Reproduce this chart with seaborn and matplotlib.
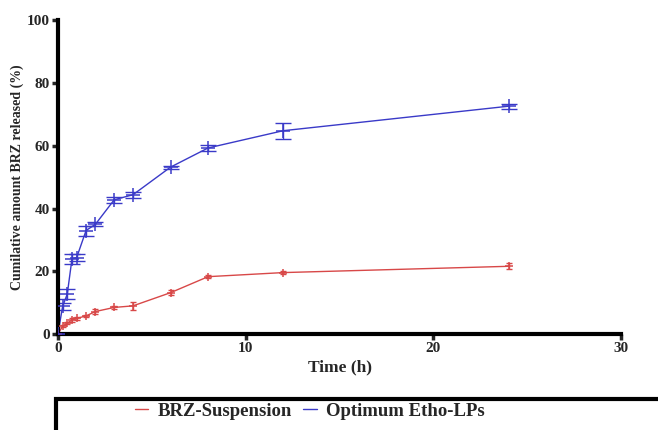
import numpy as np
import pandas as pd
import matplotlib
matplotlib.use("Agg")
import matplotlib.pyplot as plt
import seaborn as sns
from matplotlib.patches import Rectangle
from matplotlib.lines import Line2D

time_h = [0, 0.25, 0.5, 0.75, 1, 1.5, 2, 3, 4, 6, 8, 12, 24]
brz_susp = [0, 2.5, 3.5, 4.5, 5.0, 5.8, 7.2, 8.5, 9.0, 13.2, 18.3, 19.6, 21.6]
brz_susp_err = [0, 0.3, 0.4, 0.5, 0.4, 0.4, 0.7, 0.5, 1.3, 0.7, 0.5, 0.5, 0.9]
etho_lps = [0, 8.8, 12.8, 24.0, 24.4, 33.0, 35.0, 42.8, 44.4, 53.2, 59.3, 64.8, 72.6]
etho_lps_err = [0, 1.2, 1.6, 1.6, 1.0, 1.6, 0.7, 0.9, 0.9, 0.5, 0.9, 2.6, 0.8]
series_names = ["BRZ-Suspension", "Optimum Etho-LPs"]
colors = ["#d84848", "#3a3ac8"]

df = pd.DataFrame({
    "Time": time_h * 2,
    "Release": brz_susp + etho_lps,
    "Err": brz_susp_err + etho_lps_err,
    "Series": [series_names[0]] * len(time_h) + [series_names[1]] * len(time_h),
})

sns.set_style("ticks")
plt.rcParams["font.family"] = ["Liberation Serif", "DejaVu Serif"]
plt.rcParams["font.weight"] = "bold"

fig = plt.figure(figsize=(6.58, 4.30), dpi=100)
ax = fig.add_axes([0.088, 0.223, 0.856, 0.730])

sns.lineplot(data=df, x="Time", y="Release", hue="Series", palette=colors,
             linewidth=1.0, ax=ax, legend=False, errorbar=None)
for name, c, msz, cap in zip(series_names, colors, [6, 10], [2.5, 5.5]):
    sub = df[df["Series"] == name]
    sns.scatterplot(x=sub["Time"], y=sub["Release"], marker="+", s=msz ** 2,
                    color=c, linewidth=1.1, ax=ax, legend=False, zorder=3)
    ax.errorbar(sub["Time"], sub["Release"], yerr=sub["Err"], fmt="none",
                ecolor=c, elinewidth=1.0, capsize=cap, capthick=1.0)

ax.set_xlim(0, 30)
ax.set_ylim(0, 100)
ax.set_xticks([0, 10, 20, 30])
ax.set_yticks([0, 20, 40, 60, 80, 100])
ax.set_xlabel("Time (h)", fontsize=12.5, fontweight="bold", labelpad=3)
ax.set_ylabel("Cumilative amount BRZ released (%)", fontsize=10, fontweight="bold", labelpad=2)
ax.tick_params(axis="both", width=2.5, length=4, labelsize=11, pad=2)
for lab in ax.get_xticklabels() + ax.get_yticklabels():
    lab.set_fontweight("bold")
sns.despine(ax=ax)
for s in ["left", "bottom"]:
    ax.spines[s].set_linewidth(3)
    ax.spines[s].set_color("black")

# legend box
rect = Rectangle((56 / 658, -0.2), 1.0, (430 - 399) / 430 + 0.2, transform=fig.transFigure,
                 fill=False, edgecolor="black", linewidth=3, clip_on=False)
fig.patches.append(rect)
handles = [Line2D([0], [0], color=c, lw=1.0) for c in colors]
fig.legend(handles, series_names, loc="center", bbox_to_anchor=(310 / 658, 1 - 411 / 430),
           ncol=2, frameon=False, handlelength=0.7, handletextpad=0.5, columnspacing=0.6,
           prop={"family": "Liberation Serif", "weight": "bold", "size": 13.5})

fig.savefig("out.png", dpi=100)
